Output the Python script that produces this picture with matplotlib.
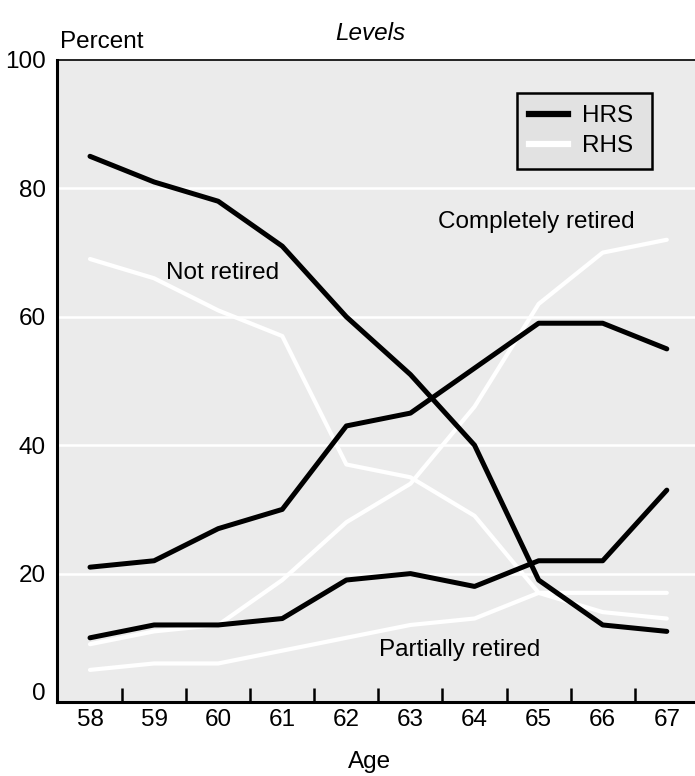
import matplotlib
matplotlib.use("Agg")
import matplotlib.pyplot as plt
from matplotlib.lines import Line2D
from matplotlib.transforms import ScaledTranslation

ages = [58, 59, 60, 61, 62, 63, 64, 65, 66, 67]
hrs_not = [85, 81, 78, 71, 60, 51, 40, 19, 12, 11]
rhs_not = [69, 66, 61, 57, 37, 35, 29, 17, 14, 13]
hrs_complete = [21, 22, 27, 30, 43, 45, 52, 59, 59, 55]
rhs_complete = [9, 11, 12, 19, 28, 34, 46, 62, 70, 72]
hrs_partial = [10, 12, 12, 13, 19, 20, 18, 22, 22, 33]
rhs_partial = [5, 6, 6, 8, 10, 12, 13, 17, 17, 17]
yticks = [0, 20, 40, 60, 80, 100]

plt.rcParams['font.family'] = ['Liberation Sans', 'DejaVu Sans']
FS = 17.5

fig = plt.figure(figsize=(6.95, 7.76), dpi=100)
ax = fig.add_axes([57/695, 1-702/776, 1-57/695, (702-60)/776])
ax.set_facecolor('#ebebeb')

ax.set_xlim(57.485, 67.44)
ax.set_ylim(0, 100)

for y in [20, 40, 60, 80]:
    ax.axhline(y, color='white', lw=1.8, zorder=1)

for s in [rhs_not, rhs_complete, rhs_partial]:
    ax.plot(ages, s, color='white', lw=3.0, zorder=2, solid_capstyle='round')
for s in [hrs_not, hrs_complete, hrs_partial]:
    ax.plot(ages, s, color='black', lw=3.6, zorder=3, solid_capstyle='round')

ax.spines['right'].set_visible(False)
ax.spines['top'].set_linewidth(1.2)
ax.spines['left'].set_linewidth(2.2)
ax.spines['bottom'].set_linewidth(2.2)

ax.set_xticks(ages)
ax.set_xticklabels([str(a) for a in ages], fontsize=FS)
ax.tick_params(axis='x', which='major', length=0, pad=5)
ax.set_xticks([a + 0.5 for a in ages[:-1]], minor=True)
ax.tick_params(axis='x', which='minor', direction='in', length=10, width=1.8)
ax.set_yticks(yticks)
ax.set_yticklabels([str(v) for v in yticks], fontsize=FS)
ax.tick_params(axis='y', length=0, pad=8)
lbl0 = ax.get_yticklabels()[0]
lbl0.set_transform(lbl0.get_transform() + ScaledTranslation(0, 11/100, fig.dpi_scale_trans))

fig.text(60/695, 1-42/776, 'Percent', fontsize=FS, ha='left', va='center')
fig.text(370/695, 1-33/776, 'Levels', fontsize=FS, ha='center', va='center', style='italic')
fig.text(370/695, 1-762/776, 'Age', fontsize=FS, ha='center', va='center')

ax.text(64.97, 74.7, 'Completely retired', fontsize=FS, ha='center', va='center')
ax.text(60.07, 66.8, 'Not retired', fontsize=FS, ha='center', va='center')
ax.text(63.77, 8.1, 'Partially retired', fontsize=FS, ha='center', va='center')

handles = [Line2D([], [], color='black', lw=4.5), Line2D([], [], color='white', lw=4.5)]
leg = ax.legend(handles, ['HRS ', 'RHS '], loc='upper right', bbox_to_anchor=(0.933, 0.9486),
                fontsize=FS, frameon=True, fancybox=False, handlelength=1.6,
                borderpad=0.5, labelspacing=0.33, handletextpad=0.58, borderaxespad=0)
leg.get_frame().set_facecolor('#e2e2e2')
leg.get_frame().set_edgecolor('black')
leg.get_frame().set_linewidth(1.8)
leg.get_frame().set_alpha(1)

fig.savefig('out.png', dpi=100)
